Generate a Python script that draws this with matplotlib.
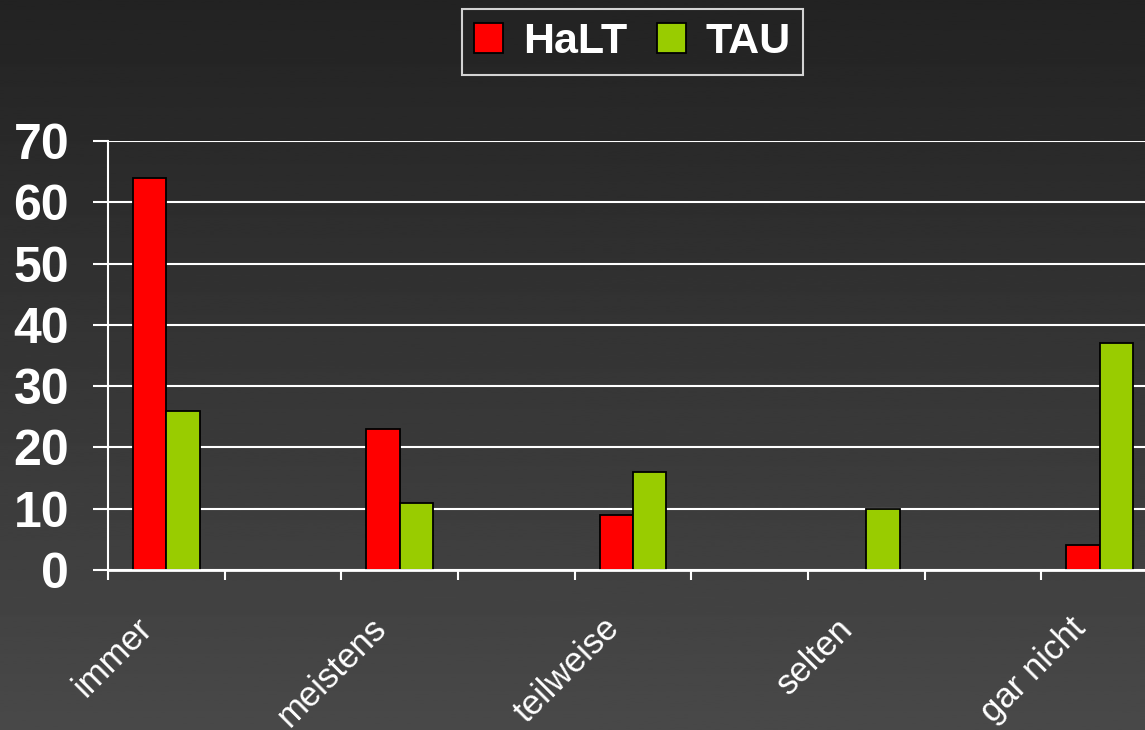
import numpy as np
import matplotlib
matplotlib.use("Agg")
import matplotlib.pyplot as plt
from matplotlib.patches import Patch
from matplotlib.transforms import ScaledTranslation

plt.rcParams['font.family'] = ['Liberation Sans', 'DejaVu Sans']

# data
categories = ['immer', 'meistens', 'teilweise', 'selten', 'gar nicht']
halt = [64, 23, 9, 0, 4]
tau = [26, 11, 16, 10, 37]
yticks = [0, 10, 20, 30, 40, 50, 60, 70]

red = '#ff0000'
green = '#99cc00'

fig = plt.figure(figsize=(11.45, 7.30), dpi=100)

# gradient background
bg = fig.add_axes([0, 0, 1, 1], zorder=-10)
grad = np.linspace(0.135, 0.285, 256).reshape(-1, 1)
bg.imshow(grad, aspect='auto', cmap='gray', vmin=0, vmax=1, extent=[0, 1, 0, 1])
bg.axis('off')

ax = fig.add_axes([108 / 1145, 160 / 730, 1050 / 1145, 429 / 730])
ax.set_facecolor('none')

# each category sits on every other slot
x = np.arange(len(categories)) * 2
w = 0.287
b1 = ax.bar(x - w / 2, halt, w, color=red, edgecolor='black', linewidth=1.3)
b2 = ax.bar(x + w / 2, tau, w, color=green, edgecolor='black', linewidth=1.3)
for p in list(b1) + list(b2):
    if p.get_height() == 0:
        p.set_visible(False)

ax.set_xlim(-0.5, 8.5)
ax.set_ylim(0, 70)
ax.set_axisbelow(True)

ax.set_yticks(yticks)
ax.set_yticklabels([str(v) for v in yticks], fontsize=36, fontweight='bold', color='white')
ax.yaxis.grid(True, color='white', linewidth=1.5)
ax.tick_params(axis='y', length=11, width=1.5, color='white', pad=17)

ax.set_xticks(np.arange(-0.5, 8.6, 1.0))
ax.set_xticklabels([])
ax.tick_params(axis='x', length=7.5, width=1.5, color='white')

off = ScaledTranslation(-12 / 100, -60 / 100, fig.dpi_scale_trans)
for xi, lab in zip(x, categories):
    ax.text(xi, 0, lab, transform=ax.transData + off, rotation=45,
            rotation_mode='anchor', ha='right', va='baseline',
            fontsize=25, color='white', clip_on=False)

for s in ['top', 'right']:
    ax.spines[s].set_visible(False)
ax.spines['left'].set_color('white')
ax.spines['left'].set_linewidth(1.5)
ax.spines['bottom'].set_color('white')
ax.spines['bottom'].set_linewidth(2)

handles = [Patch(facecolor=red, edgecolor='black', linewidth=1.3),
           Patch(facecolor=green, edgecolor='black', linewidth=1.3)]
leg = fig.legend(handles, ['HaLT', 'TAU'], loc='center',
                 bbox_to_anchor=(632.5 / 1145, 1 - 42 / 730), ncol=2,
                 frameon=True, fancybox=False, facecolor='none', edgecolor='white',
                 prop={'size': 31, 'weight': 'bold'},
                 handlelength=0.67, handleheight=0.67, handletextpad=0.45,
                 columnspacing=0.7, borderpad=0.3, borderaxespad=0)
leg.get_frame().set_linewidth(1.5)
for t in leg.get_texts():
    t.set_color('white')

fig.savefig('out.png', dpi=100)
